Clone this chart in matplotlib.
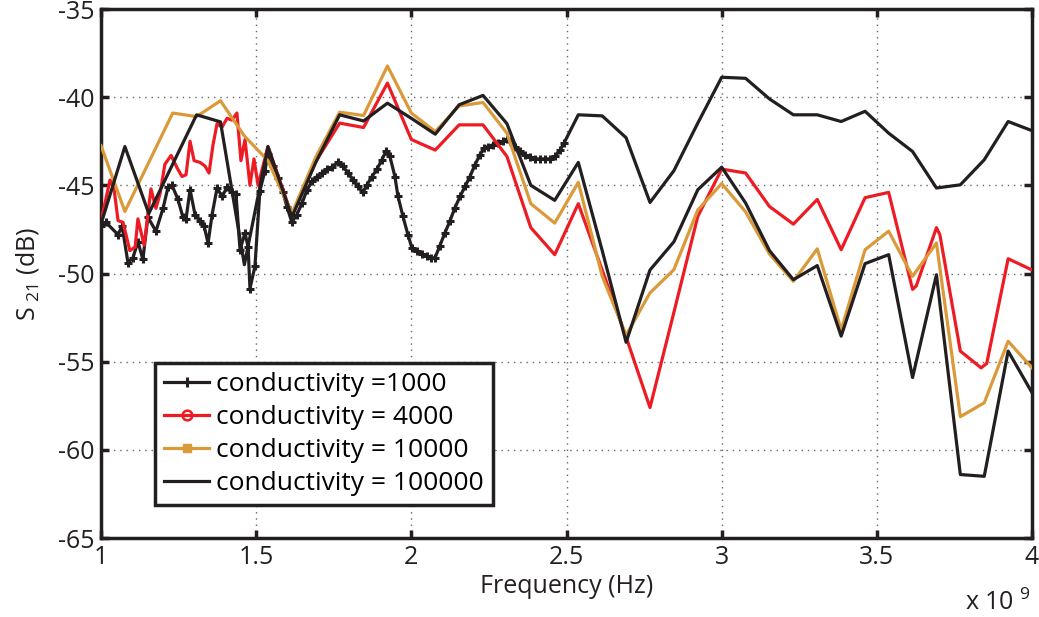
import matplotlib
matplotlib.use("Agg")
import matplotlib.pyplot as plt
from matplotlib.lines import Line2D

plt.rcParams['font.family'] = ['Open Sans', 'DejaVu Sans']
plt.rcParams['mathtext.fontset'] = 'custom'
plt.rcParams['mathtext.rm'] = 'Open Sans'
plt.rcParams['axes.unicode_minus'] = False

# frequency grid of the coarse sweeps (GHz)
f_coarse = [1.000, 1.077, 1.154, 1.231, 1.308, 1.385, 1.462, 1.538, 1.615, 1.692,
            1.769, 1.846, 1.923, 2.000, 2.077, 2.154, 2.231, 2.308, 2.385, 2.462,
            2.538, 2.615, 2.692, 2.769, 2.846, 2.923, 3.000, 3.077, 3.154, 3.231,
            3.308, 3.385, 3.462, 3.538, 3.615, 3.692, 3.769, 3.846, 3.923, 4.000]

# conductivity = 1000 : dense sweep up to 2.5 GHz, then coarse
f_1000_dense = [1.000, 1.016, 1.055, 1.068, 1.087, 1.103, 1.119, 1.135, 1.151, 1.177,
                1.200, 1.216, 1.229, 1.248, 1.264, 1.274, 1.287, 1.303, 1.319, 1.332,
                1.345, 1.358, 1.374, 1.390, 1.406, 1.422, 1.435, 1.448, 1.464, 1.474,
                1.480, 1.496, 1.512, 1.528, 1.538, 1.554, 1.570, 1.586, 1.599, 1.615,
                1.631, 1.648, 1.664, 1.680, 1.696, 1.712, 1.728, 1.744, 1.764, 1.780,
                1.796, 1.812, 1.828, 1.844, 1.857, 1.873, 1.889, 1.905, 1.918, 1.931,
                1.947, 1.957, 1.973, 1.989, 2.002, 2.018, 2.034, 2.050, 2.063, 2.076,
                2.092, 2.108, 2.124, 2.140, 2.157, 2.173, 2.189, 2.205, 2.221, 2.234,
                2.247, 2.263, 2.279, 2.295, 2.308, 2.318, 2.334, 2.350, 2.366, 2.382,
                2.398, 2.414, 2.430, 2.447, 2.463, 2.479, 2.492]
s_1000_dense = [-47.3, -47.1, -47.8, -47.3, -49.4, -49.1, -48.2, -49.2, -46.8, -47.6,
                -46.3, -45.1, -45.0, -45.8, -46.8, -46.9, -45.25, -46.66, -47.0, -47.3,
                -48.27, -46.66, -45.15, -45.63, -45.12, -45.4, -45.5, -48.65, -47.7, -48.5,
                -50.85, -49.6, -45.3, -44.2, -43.2, -43.9, -44.6, -45.4, -46.2, -47.1,
                -46.66, -46.0, -45.25, -44.78, -44.5, -44.3, -44.1, -43.96, -43.7, -43.93,
                -44.3, -44.68, -45.06, -45.4, -44.97, -44.5, -44.1, -43.55, -43.08, -43.36,
                -44.5, -45.63, -46.76, -47.8, -48.55, -48.74, -48.87, -49.03, -49.1, -49.12,
                -48.42, -47.7, -47.04, -46.29, -45.63, -45.06, -44.5, -43.83, -43.27, -42.89,
                -42.8, -42.7, -42.6, -42.5, -42.4, -42.5, -42.8, -43.08, -43.27, -43.4,
                -43.5, -43.5, -43.5, -43.5, -43.36, -43.0, -42.6]
s_1000_coarse = [-41.0, -41.06, -42.3, -45.97, -44.17, -41.47, -38.87, -38.93, -40.1, -41.0,
                 -41.0, -41.38, -40.8, -42.04, -43.08, -45.15, -44.97, -43.55, -41.38, -41.9]

# conductivity = 4000 : dense below 1.52 GHz, then coarse with a few extra points
f_4000 = [1.000, 1.013, 1.029, 1.042, 1.055, 1.071, 1.093, 1.110, 1.119, 1.139,
          1.161, 1.177, 1.190, 1.206, 1.226, 1.245, 1.261, 1.274, 1.287, 1.300,
          1.319, 1.335, 1.348, 1.361, 1.374, 1.390, 1.406, 1.422, 1.438, 1.451,
          1.464, 1.480, 1.493, 1.506,
          1.538, 1.615, 1.692, 1.769, 1.846, 1.923, 2.000, 2.077, 2.154, 2.231,
          2.308, 2.385, 2.462, 2.538, 2.615, 2.692, 2.769, 2.846, 2.923, 3.000,
          3.077, 3.154, 3.231, 3.308, 3.385, 3.462, 3.538, 3.615, 3.627, 3.692,
          3.703, 3.769, 3.836, 3.854, 3.923, 4.000]
s_4000 = [-47.0, -46.0, -44.7, -45.2, -47.0, -47.1, -48.7, -48.5, -46.9, -48.4,
          -45.2, -46.3, -45.5, -43.8, -43.3, -44.0, -44.5, -44.4, -42.5, -43.6,
          -43.7, -43.9, -44.3, -42.7, -41.5, -41.7, -41.2, -41.3, -40.9, -43.6,
          -42.4, -45.0, -43.5, -45.0,
          -42.8, -46.7, -43.65, -41.47, -41.72, -39.2, -42.4, -43.0, -41.57, -41.57,
          -43.36, -47.4, -48.93, -46.04, -49.8, -53.6, -57.6, -52.2, -46.76, -44.08,
          -44.3, -46.2, -47.2, -45.8, -48.65, -45.7, -45.4, -50.9, -50.7, -47.4,
          -47.8, -54.4, -55.35, -55.1, -49.16, -49.8]

s_10000 = [-42.75, -46.48, -43.7, -40.9, -41.1, -40.2, -42.2, -43.6, -46.6, -43.4,
           -40.85, -41.04, -38.23, -40.9, -41.95, -40.5, -40.3, -42.04, -46.04, -47.14,
           -44.83, -50.16, -53.5, -51.1, -49.78, -46.4, -44.9, -46.5, -48.9, -50.44,
           -48.6, -53.2, -48.65, -47.6, -50.16, -48.27, -58.12, -57.33, -53.84, -55.35]

s_100000 = [-47.2, -42.8, -46.6, -43.8, -41.0, -41.4, -49.5, -42.8, -46.8, -43.7,
            -41.0, -41.35, -40.34, -41.2, -42.1, -40.43, -39.9, -41.5, -45.0, -45.85,
            -43.7, -48.7, -53.9, -49.8, -48.2, -45.25, -43.97, -46.0, -48.7, -50.35,
            -49.55, -53.55, -49.44, -48.93, -55.9, -50.07, -61.4, -61.5, -54.4, -56.76]

labels = ['conductivity =1000', 'conductivity = 4000',
          'conductivity = 10000', 'conductivity = 100000']

BLACK = '#231f20'
RED = '#ed1c24'
ORANGE = '#da9a3a'
FS = 18

fig = plt.figure(figsize=(10.39, 6.17), dpi=100)
ax = fig.add_axes([0.0972, 0.128, 0.8961, 0.8574])

f_1000 = f_1000_dense + f_coarse[20:]
s_1000 = s_1000_dense + s_1000_coarse
ax.plot(f_1000, s_1000, color=BLACK, lw=2.3, marker='+', ms=6, mew=2.2,
        markevery=slice(0, len(f_1000_dense)), zorder=3)
ax.plot(f_4000, s_4000, color=RED, lw=2.3, zorder=3)
ax.plot(f_coarse, s_10000, color=ORANGE, lw=2.3, zorder=3)
ax.plot(f_coarse, s_100000, color=BLACK, lw=2.3, zorder=3)

ax.set_xlim(1, 4)
ax.set_ylim(-65, -35)
ax.set_xticks([1, 1.5, 2, 2.5, 3, 3.5, 4])
ax.set_xticklabels(['1', '1.5', '2', '2.5', '3', '3.5', '4'])
ax.set_yticks([-65, -60, -55, -50, -45, -40, -35])
ax.tick_params(direction='in', top=True, right=True, length=6, width=2.5,
               labelsize=FS, colors=BLACK, pad=5)
for sp in ax.spines.values():
    sp.set_linewidth(2.5)
    sp.set_color(BLACK)
ax.grid(True, color='#666666', linestyle=(0, (1, 3.5)), lw=1)

ax.set_xlabel('Frequency (Hz)', fontsize=FS, color=BLACK, labelpad=3)
ax.set_ylabel(r'S$_{\ 21}$ (dB)', fontsize=FS, color=BLACK, labelpad=12)
fig.text(0.929, 0.012, r'x 10$^{\ 9}$', fontsize=FS, color=BLACK)

handles = [Line2D([], [], color=BLACK, lw=2.3, marker='+', ms=7, mew=2.2),
           Line2D([], [], color=RED, lw=2.3, marker='o', ms=7, mfc='none', mew=1.8),
           Line2D([], [], color=ORANGE, lw=2.3, marker='s', ms=6),
           Line2D([], [], color=BLACK, lw=2.3)]
leg = ax.legend(handles, labels, loc='lower left', bbox_to_anchor=(0.058, 0.062),
                borderaxespad=0, fontsize=19, fancybox=False, framealpha=1,
                edgecolor=BLACK, handlelength=1.7, handletextpad=0.25,
                labelspacing=0.3, borderpad=0.35)
leg.get_frame().set_linewidth(2.5)

fig.savefig('out.png', dpi=100)
